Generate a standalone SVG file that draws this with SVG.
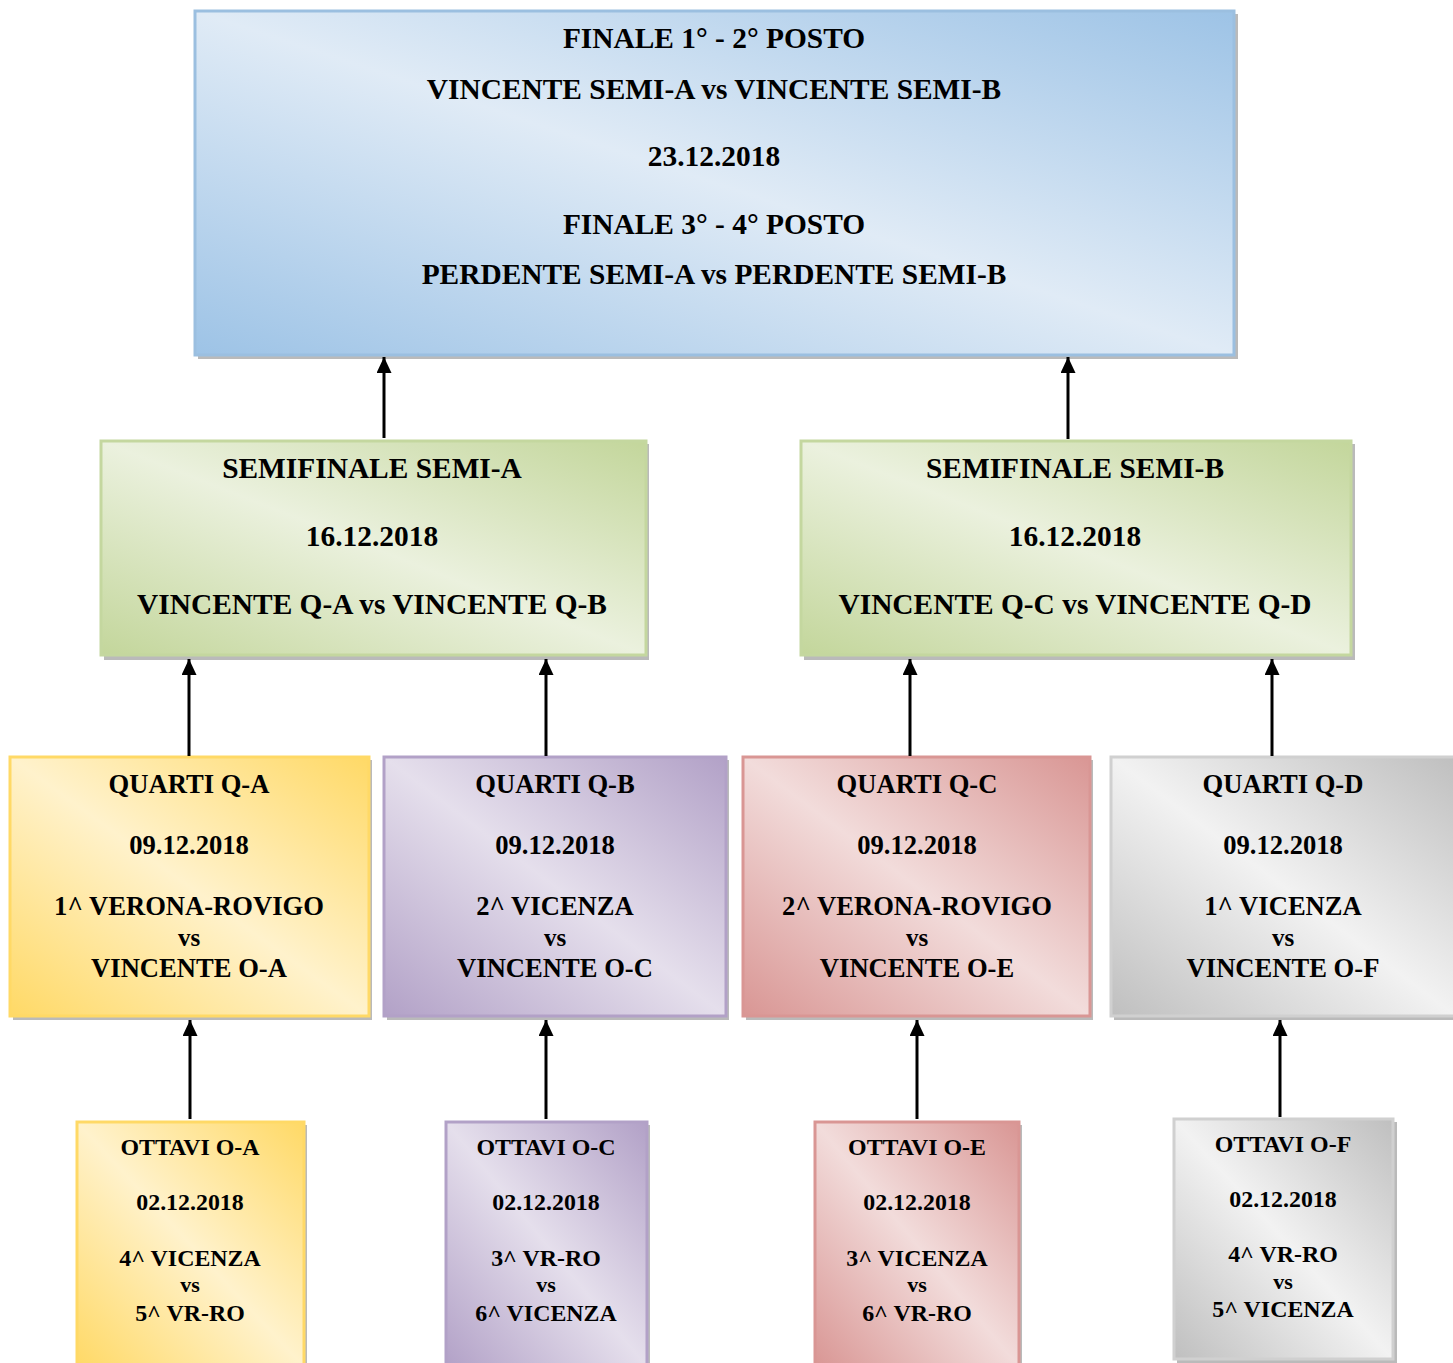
<svg xmlns="http://www.w3.org/2000/svg" width="1453" height="1363" viewBox="0 0 1453 1363">
<defs>
<linearGradient id="gBlue" x1="0" y1="1" x2="1" y2="0"><stop offset="0" stop-color="#9dc3e6"/><stop offset="0.5" stop-color="#e0ebf6"/><stop offset="1" stop-color="#9dc3e6"/></linearGradient>
<linearGradient id="gGreen" x1="0" y1="1" x2="1" y2="0"><stop offset="0" stop-color="#c3d69b"/><stop offset="0.5" stop-color="#ebf1de"/><stop offset="1" stop-color="#c3d69b"/></linearGradient>
<linearGradient id="gGold" x1="0" y1="1" x2="1" y2="0"><stop offset="0" stop-color="#ffd966"/><stop offset="0.5" stop-color="#fff2cc"/><stop offset="1" stop-color="#ffd966"/></linearGradient>
<linearGradient id="gPurple" x1="0" y1="1" x2="1" y2="0"><stop offset="0" stop-color="#b2a1c7"/><stop offset="0.5" stop-color="#e5dfec"/><stop offset="1" stop-color="#b2a1c7"/></linearGradient>
<linearGradient id="gRed" x1="0" y1="1" x2="1" y2="0"><stop offset="0" stop-color="#d99694"/><stop offset="0.5" stop-color="#f2dcdb"/><stop offset="1" stop-color="#d99694"/></linearGradient>
<linearGradient id="gGray" x1="0" y1="1" x2="1" y2="0"><stop offset="0" stop-color="#bfbfbf"/><stop offset="0.5" stop-color="#f2f2f2"/><stop offset="1" stop-color="#bfbfbf"/></linearGradient>
<marker id="arr" markerWidth="16" markerHeight="15" refX="16" refY="7.5" orient="auto" markerUnits="userSpaceOnUse" viewBox="0 0 16 15"><path d="M0,0 L16,7.5 L0,15 Z" fill="#000"/></marker>
</defs>
<style>
text{font-family:"Liberation Serif","Times New Roman",serif;font-weight:bold;fill:#000;text-anchor:middle}
.big{font-size:29.4px}
.q{font-size:26.6px}
.o{font-size:23.9px}
.vs{font-size:25px}
.vso{font-size:22px}
.sh{fill:#8c8c8c;opacity:0.6}
.conn line{stroke:#000;stroke-width:3}
</style>
<g id="final">
<rect class="sh" x="198" y="14" width="1040" height="345"/>
<rect x="195" y="11" width="1039" height="344" fill="url(#gBlue)" stroke="#9bbfe0" stroke-width="3"/>
<text class="big" x="714" y="48">FINALE 1° - 2° POSTO</text>
<text class="big" x="714" y="99">VINCENTE SEMI-A vs VINCENTE SEMI-B</text>
<text class="big" x="714" y="166">23.12.2018</text>
<text class="big" x="714" y="234">FINALE 3° - 4° POSTO</text>
<text class="big" x="714" y="284">PERDENTE SEMI-A vs PERDENTE SEMI-B</text>
</g>
<g id="semiA">
<rect class="sh" x="104" y="444" width="545" height="216"/>
<rect x="101" y="441" width="545" height="214" fill="url(#gGreen)" stroke="#c4d79f" stroke-width="3"/>
<text class="big" x="372" y="478">SEMIFINALE SEMI-A</text>
<text class="big" x="372" y="546">16.12.2018</text>
<text class="big" x="372" y="614">VINCENTE Q-A vs VINCENTE Q-B</text>
</g>
<g id="semiB">
<rect class="sh" x="804" y="444" width="551" height="216"/>
<rect x="801" y="441" width="550" height="214" fill="url(#gGreen)" stroke="#c4d79f" stroke-width="3"/>
<text class="big" x="1075" y="478">SEMIFINALE SEMI-B</text>
<text class="big" x="1075" y="546">16.12.2018</text>
<text class="big" x="1075" y="614">VINCENTE Q-C vs VINCENTE Q-D</text>
</g>
<g id="qA">
<rect class="sh" x="13" y="760" width="359" height="260"/>
<rect x="10" y="757" width="359" height="259" fill="url(#gGold)" stroke="#ffd966" stroke-width="3"/>
<text class="q" x="189" y="793">QUARTI Q-A</text>
<text class="q" x="189" y="854">09.12.2018</text>
<text class="q" x="189" y="915">1^ VERONA-ROVIGO</text>
<text class="vs" x="189" y="946">vs</text>
<text class="q" x="189" y="977">VINCENTE O-A</text>
</g>
<g id="qB">
<rect class="sh" x="387" y="760" width="342" height="260"/>
<rect x="384" y="757" width="342" height="259" fill="url(#gPurple)" stroke="#b2a1c7" stroke-width="3"/>
<text class="q" x="555" y="793">QUARTI Q-B</text>
<text class="q" x="555" y="854">09.12.2018</text>
<text class="q" x="555" y="915">2^ VICENZA</text>
<text class="vs" x="555" y="946">vs</text>
<text class="q" x="555" y="977">VINCENTE O-C</text>
</g>
<g id="qC">
<rect class="sh" x="746" y="760" width="347" height="260"/>
<rect x="743" y="757" width="347" height="259" fill="url(#gRed)" stroke="#d99694" stroke-width="3"/>
<text class="q" x="917" y="793">QUARTI Q-C</text>
<text class="q" x="917" y="854">09.12.2018</text>
<text class="q" x="917" y="915">2^ VERONA-ROVIGO</text>
<text class="vs" x="917" y="946">vs</text>
<text class="q" x="917" y="977">VINCENTE O-E</text>
</g>
<g id="qD">
<rect class="sh" x="1114" y="760" width="345" height="260"/>
<rect x="1111" y="757" width="345" height="259" fill="url(#gGray)" stroke="#d0d0d0" stroke-width="3"/>
<text class="q" x="1283" y="793">QUARTI Q-D</text>
<text class="q" x="1283" y="854">09.12.2018</text>
<text class="q" x="1283" y="915">1^ VICENZA</text>
<text class="vs" x="1283" y="946">vs</text>
<text class="q" x="1283" y="977">VINCENTE O-F</text>
</g>
<g id="oA">
<rect class="sh" x="80" y="1125" width="227" height="245"/>
<rect x="77" y="1122" width="227" height="245" fill="url(#gGold)" stroke="#ffd966" stroke-width="3"/>
<text class="o" x="190" y="1155">OTTAVI O-A</text>
<text class="o" x="190" y="1210">02.12.2018</text>
<text class="o" x="190" y="1266">4^ VICENZA</text>
<text class="vso" x="190" y="1292">vs</text>
<text class="o" x="190" y="1321">5^ VR-RO</text>
</g>
<g id="oC">
<rect class="sh" x="449" y="1125" width="201" height="245"/>
<rect x="446" y="1122" width="201" height="245" fill="url(#gPurple)" stroke="#b2a1c7" stroke-width="3"/>
<text class="o" x="546" y="1155">OTTAVI O-C</text>
<text class="o" x="546" y="1210">02.12.2018</text>
<text class="o" x="546" y="1266">3^ VR-RO</text>
<text class="vso" x="546" y="1292">vs</text>
<text class="o" x="546" y="1321">6^ VICENZA</text>
</g>
<g id="oE">
<rect class="sh" x="818" y="1125" width="204" height="245"/>
<rect x="815" y="1122" width="204" height="245" fill="url(#gRed)" stroke="#d99694" stroke-width="3"/>
<text class="o" x="917" y="1155">OTTAVI O-E</text>
<text class="o" x="917" y="1210">02.12.2018</text>
<text class="o" x="917" y="1266">3^ VICENZA</text>
<text class="vso" x="917" y="1292">vs</text>
<text class="o" x="917" y="1321">6^ VR-RO</text>
</g>
<g id="oF">
<rect class="sh" x="1177" y="1122" width="220" height="241"/>
<rect x="1174" y="1119" width="219" height="240" fill="url(#gGray)" stroke="#d0d0d0" stroke-width="3"/>
<text class="o" x="1283" y="1152">OTTAVI O-F</text>
<text class="o" x="1283" y="1207">02.12.2018</text>
<text class="o" x="1283" y="1262">4^ VR-RO</text>
<text class="vso" x="1283" y="1289">vs</text>
<text class="o" x="1283" y="1317">5^ VICENZA</text>
</g>
<g id="connectors" class="conn">
<line x1="384" y1="438" x2="384" y2="357" marker-end="url(#arr)"/>
<line x1="1068" y1="439" x2="1068" y2="357" marker-end="url(#arr)"/>
<line x1="189" y1="756" x2="189" y2="659" marker-end="url(#arr)"/>
<line x1="546" y1="756" x2="546" y2="659" marker-end="url(#arr)"/>
<line x1="910" y1="756" x2="910" y2="659" marker-end="url(#arr)"/>
<line x1="1272" y1="756" x2="1272" y2="659" marker-end="url(#arr)"/>
<line x1="190" y1="1119" x2="190" y2="1020" marker-end="url(#arr)"/>
<line x1="546" y1="1119" x2="546" y2="1020" marker-end="url(#arr)"/>
<line x1="917" y1="1119" x2="917" y2="1020" marker-end="url(#arr)"/>
<line x1="1280" y1="1117" x2="1280" y2="1020" marker-end="url(#arr)"/>
</g>
</svg>
